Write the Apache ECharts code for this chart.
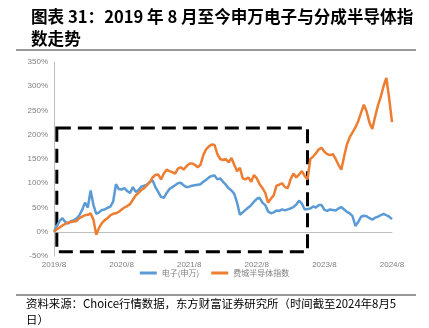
<!DOCTYPE html>
<html><head><meta charset="utf-8">
<script src="https://cdn.jsdelivr.net/npm/echarts@6/dist/echarts.min.js"></script>
<style>html,body{margin:0;padding:0;background:#fff}#c{width:429px;height:328px}</style>
</head><body><div id="c"></div>
<script>
// semi-monthly sample dates, 2019/8 .. 2024/8
var dates = [];
(function(){ for (var y = 2019; y <= 2024; y++) { for (var m = 1; m <= 12; m++) {
  if (y === 2019 && m < 8) continue;
  dates.push(y + '/' + m + '/1');
  if (y === 2024 && m === 8) return;
  dates.push(y + '/' + m + '/16');
}}})();
var tickLabels = ['2019/8','2020/8','2021/8','2022/8','2023/8','2024/8'];
var electronics = [0,12,22,28,20,17,22,24,27,34,45,60,50,85,55,37,40,45,46,49,52,62,98,88,87,90,84,80,92,82,86,93,95,97,103,106,92,82,72,70,80,88,92,96,100,101,96,92,93,95,96,97,98,103,107,112,115,116,108,110,103,97,90,85,78,60,35,40,45,50,55,62,68,70,60,55,42,38,40,44,43,46,44,46,48,51,56,64,58,46,47,48,52,50,55,55,45,43,46,45,44,48,51,46,41,38,32,12,20,31,33,32,28,25,29,31,34,37,34,31,26];
var sox = [0,5,9,13,16,19,20,21,22,28,31,34,35,38,25,-6,8,18,24,28,34,37,38,41,46,50,53,57,66,75,80,86,90,96,102,112,117,118,108,120,128,125,123,120,130,133,128,135,140,141,138,133,138,158,170,176,180,179,160,150,148,150,143,152,138,125,132,110,108,112,103,117,110,98,90,80,60,68,75,95,97,100,92,90,108,120,112,118,125,115,108,150,155,162,170,173,165,160,158,160,150,138,128,155,180,195,205,215,228,245,262,248,225,212,237,260,278,300,317,275,226];
var boxX = [1, 90];
var boxY = [-41, 214];
var yTicks = [-50, 350, 50];

var chart = echarts.init(document.getElementById('c'));
var grey = '#7f7f7f';
chart.setOption({
  animation: false,
  title: {
    text: '图表 31：2019 年 8 月至今申万电子与分成半导体指\n数走势',
    left: 26, top: 1,
    textStyle: {fontFamily: 'Noto Sans CJK SC', fontWeight: 'bold', fontSize: 16.6, lineHeight: 22, color: '#000'}
  },
  graphic: [
    {type: 'line', shape: {x1: 16, y1: 50, x2: 416, y2: 50}, style: {stroke: '#333', lineWidth: 1}},
    {type: 'line', shape: {x1: 16, y1: 295, x2: 416, y2: 295}, style: {stroke: '#333', lineWidth: 1}},
    {type: 'text', left: 26, top: 296, style: {text: '资料来源：Choice行情数据，东方财富证券研究所（时间截至2024年8月5\n日）', font: '11.4px "Noto Sans CJK SC"', fill: '#000', lineHeight: 16}}
  ],
  legend: {
    data: ['电子(申万)', '费城半导体指数'],
    bottom: 46, left: 'center',
    itemWidth: 17, itemHeight: 3, itemGap: 12,
    icon: 'rect',
    textStyle: {fontSize: 8, color: grey, fontFamily: 'Noto Sans CJK SC'}
  },
  grid: {left: 54, right: 37, top: 62, bottom: 72, containLabel: false},
  xAxis: {
    type: 'category', data: dates, boundaryGap: false,
    axisLine: {onZero: true, lineStyle: {color: '#bfbfbf'}},
    axisTick: {show: false},
    axisLabel: {
      color: grey, fontSize: 8, fontFamily: 'Liberation Sans', margin: 5,
      interval: function (i) { return i % 24 === 0; },
      formatter: function (v, i) { return tickLabels[i / 24] || ''; }
    },
    splitLine: {show: false}
  },
  yAxis: {
    type: 'value', min: yTicks[0], max: yTicks[1], interval: yTicks[2],
    axisLine: {show: true, lineStyle: {color: '#bfbfbf'}},
    axisTick: {show: false},
    splitLine: {show: false},
    axisLabel: {color: grey, fontSize: 8, fontFamily: 'Liberation Sans', margin: 6, formatter: '{value}%'}
  },
  series: [
    {name: '电子(申万)', type: 'line', data: electronics, showSymbol: false, symbol: 'none',
     lineStyle: {color: '#5B9BD5', width: 2.5}, itemStyle: {color: '#5B9BD5'}},
    {name: '费城半导体指数', type: 'line', data: sox, showSymbol: false, symbol: 'none',
     lineStyle: {color: '#ED7D31', width: 2.5}, itemStyle: {color: '#ED7D31'}},
    {name: 'box', type: 'line', data: [], z: 10, silent: true,
     markArea: {silent: true,
       itemStyle: {color: 'rgba(0,0,0,0)', borderColor: '#000', borderWidth: 3, borderType: [14, 7]},
       data: [[{coord: [boxX[0], boxY[1]]}, {coord: [boxX[1], boxY[0]]}]]}}
  ]
});
</script></body></html>
